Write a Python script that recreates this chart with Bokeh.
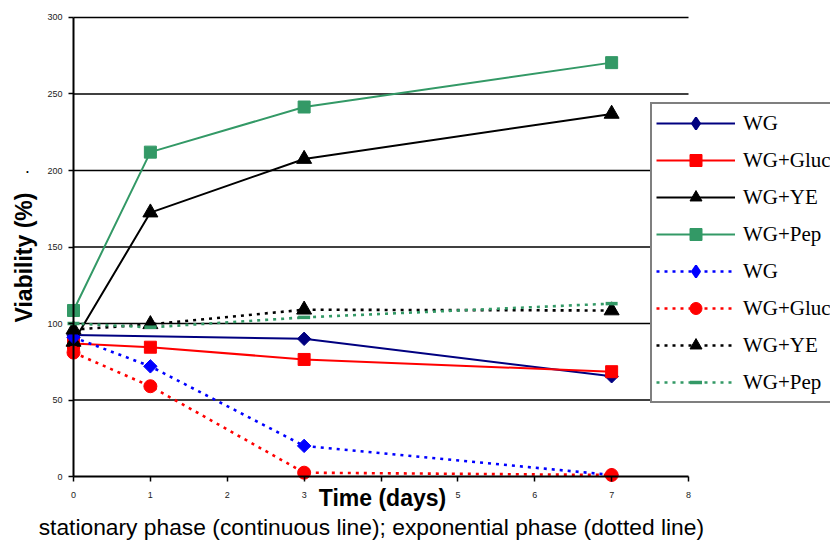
import math
from bokeh.plotting import figure
from bokeh.models import Range1d, Legend, LegendItem, Label, FixedTicker
from bokeh.embed import file_html
from bokeh.resources import INLINE

# ---------------- data ----------------
days = [0, 1, 3, 7]
days_stat_wg = [0, 3, 7]

stat_wg = [92.5, 90, 65.5]
stat_gluc = [87, 84.5, 76.5, 68.5]
stat_ye = [88, 172.5, 207.5, 237]
stat_pep = [108.5, 212, 241.5, 270.5]

exp_wg = [91, 72, 20, 1]
exp_gluc = [81, 59, 2.5, 1]
exp_ye = [96, 99.5, 109, 108.5]
exp_pep = [100, 97.5, 104, 113]

legend_labels = ["WG", "WG+Gluc", "WG+YE", "WG+Pep",
                 "WG", "WG+Gluc", "WG+YE", "WG+Pep"]

x_ticks = [0, 1, 2, 3, 4, 5, 6, 7, 8]
y_ticks = [0, 50, 100, 150, 200, 250, 300]

x_title = "Time (days)"
y_title = "Viability (%)"
caption = "stationary  phase (continuous line); exponential phase (dotted line)"

# ---------------- figure ----------------
# the frame covers the whole canvas; axes are drawn at x=0 / y=0
W, H = 830, 541
p = figure(width=W, height=H,
           x_range=Range1d(-0.9496, 9.847), y_range=Range1d(-42.48, 311.11),
           output_backend="svg", toolbar_location=None,
           min_border_left=0, min_border_right=0,
           min_border_top=0, min_border_bottom=0)
p.xgrid.visible = False
p.ygrid.visible = False
p.outline_line_color = None
p.background_fill_color = "white"
p.border_fill_color = "white"

# horizontal gridlines from x=0 to x=8
grid_vals = y_ticks[1:]
p.segment(x0=[x_ticks[0]] * len(grid_vals), x1=[x_ticks[-1]] * len(grid_vals),
          y0=grid_vals, y1=grid_vals, line_color="black", line_width=1.6)

# axes
for ax, ticks, bnds in ((p.xaxis, x_ticks, (x_ticks[0], x_ticks[-1])),
                        (p.yaxis, y_ticks, (y_ticks[0], y_ticks[-1]))):
    ax.fixed_location = 0
    ax.bounds = bnds
    ax.ticker = FixedTicker(ticks=ticks)
    ax.axis_line_color = "black"
    ax.axis_line_width = 2
    ax.major_tick_line_color = "black"
    ax.major_tick_line_width = 1.5
    ax.major_tick_out = 5
    ax.major_tick_in = 0
    ax.minor_tick_line_color = None
    ax.major_label_text_font = "Liberation Sans"
    ax.major_label_text_font_size = "9px"
    ax.major_label_text_color = "#222222"
p.xaxis.major_label_standoff = 10
p.yaxis.major_label_standoff = 6

# series
series = [
    (days_stat_wg, stat_wg, "#000080", "diamond", 9.5, "solid"),
    (days, stat_gluc, "#FF0000", "square", 12, "solid"),
    (days, stat_ye, "black", "triangle", 15, "solid"),
    (days, stat_pep, "#339966", "square", 12, "solid"),
    (days, exp_wg, "#0000FF", "diamond", 9.5, "3 5"),
    (days, exp_gluc, "#FF0000", "circle", 13, "3 5"),
    (days, exp_ye, "black", "triangle", 15, "3 5"),
    (days, exp_pep, "#339966", "dash", 12, "3 5"),
]

items = []
for (xs, ys, col, mk, sz, dash), lab in zip(series, legend_labels):
    lw = 2 if dash == "solid" else 2.6
    lr = p.line(xs, ys, line_color=col, line_width=lw, line_dash=dash)
    if mk == "dash":
        sr = p.scatter(xs, ys, marker=mk, size=sz, line_color=col, line_width=3.5)
        rs = [lr, sr]
    elif mk == "diamond":
        sr = p.scatter(xs, ys, marker="square", angle=math.pi / 4, size=sz,
                       fill_color=col, line_color=col)
        # legend-only key for the diamond (its single point has no y value)
        key = p.scatter(x=xs[:1], y=[float("nan")], marker="diamond", size=sz,
                        fill_color=col, line_color=col, line_width=2)
        rs = [lr, key]
    else:
        sr = p.scatter(xs, ys, marker=mk, size=sz, fill_color=col, line_color=col)
        rs = [lr, sr]
    items.append(LegendItem(label=lab, renderers=rs))

legend = Legend(items=items, location=(650, H - 403),
                border_line_color="black", border_line_width=2,
                background_fill_color="white", background_fill_alpha=1,
                padding=4, spacing=7, margin=0,
                glyph_width=79, glyph_height=30, label_height=30,
                label_standoff=8,
                label_text_font="Liberation Serif",
                label_text_font_size="21px", label_text_color="black")
p.add_layout(legend)

# titles
p.add_layout(Label(x=23, y=H - 257, x_units="screen", y_units="screen",
                   text=y_title, angle=math.pi / 2,
                   text_align="center", text_baseline="middle",
                   text_font="Liberation Sans", text_font_style="bold",
                   text_font_size="23px", text_color="black"))
p.add_layout(Label(x=27, y=H - 168, x_units="screen", y_units="screen",
                   text=".", text_align="center", text_baseline="alphabetic",
                   text_font="Liberation Sans", text_font_style="bold",
                   text_font_size="12px", text_color="black"))
p.add_layout(Label(x=382, y=H - 497, x_units="screen", y_units="screen",
                   text=x_title, text_align="center", text_baseline="middle",
                   text_font="Liberation Sans", text_font_style="bold",
                   text_font_size="23px", text_color="black",
                   background_fill_color="white", background_fill_alpha=1))
p.add_layout(Label(x=374, y=H - 526, x_units="screen", y_units="screen",
                   text=caption, text_align="center", text_baseline="middle",
                   text_font="Liberation Sans", text_font_size="22.8px",
                   text_color="black"))

open("out.html", "w").write(file_html(p, INLINE))
